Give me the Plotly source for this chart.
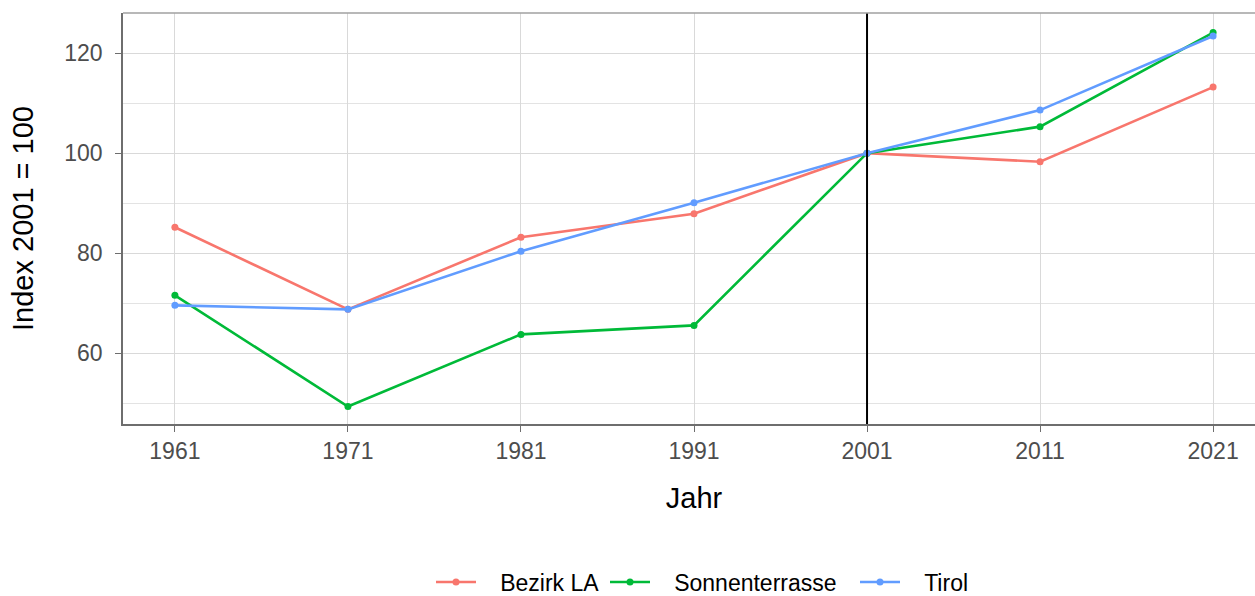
import plotly.graph_objects as go

years = [1961, 1971, 1981, 1991, 2001, 2011, 2021]
bezirk_la = [85.2, 68.8, 83.2, 87.9, 100.0, 98.3, 113.2]
sonnenterrasse = [71.6, 49.4, 63.8, 65.6, 100.0, 105.3, 124.1]
tirol = [69.6, 68.8, 80.4, 90.1, 100.0, 108.6, 123.4]
series_names = ["Bezirk LA", "Sonnenterrasse", "Tirol"]
series_colors = ["#F8766D", "#00BA38", "#619CFF"]
y_ticks = [60, 80, 100, 120]
ref_year = 2001

FONT = "Liberation Sans, Arial, sans-serif"
FIG_W = 1265  # panel extends slightly beyond the 1255px window, as in the reference
FIG_H = 615
legend_px = [431, 605, 855]
legend_ids = ["legend", "legend2", "legend3"]
GAP = "\u00a0\u00a0\u00a0"  # visual gap between legend key and label

fig = go.Figure()
for name, vals, col, lid in zip(series_names, [bezirk_la, sonnenterrasse, tirol], series_colors, legend_ids):
    fig.add_trace(go.Scatter(
        x=years, y=vals, name=GAP + name, mode="lines+markers",
        line=dict(color=col, width=2.6),
        marker=dict(color=col, size=7),
        legend=lid,
    ))

fig.add_vline(x=ref_year, line=dict(color="black", width=2))

# top border of panel
fig.add_shape(type="line", xref="paper", yref="paper", x0=0, x1=1, y0=1, y1=1,
              line=dict(color="#A0A0A0", width=1.6))

legend_common = dict(orientation="h", xanchor="left", xref="container",
                     y=1 - 582 / FIG_H, yanchor="middle", yref="container",
                     font=dict(size=23, color="black", family=FONT), itemwidth=40,
                     bgcolor="rgba(0,0,0,0)")

fig.update_layout(
    width=FIG_W, height=FIG_H,
    margin=dict(l=123, r=0, t=13, b=FIG_H - 424),
    plot_bgcolor="white", paper_bgcolor="white",
    font=dict(family=FONT, color="black"),
    showlegend=True,
    legend=dict(x=legend_px[0] / FIG_W, **legend_common),
    legend2=dict(x=legend_px[1] / FIG_W, **legend_common),
    legend3=dict(x=legend_px[2] / FIG_W, **legend_common),
)

fig.update_xaxes(
    range=[1958, 2024],
    tickmode="array", tickvals=years, ticktext=[str(y) for y in years],
    showgrid=True, gridcolor="#D9D9D9", gridwidth=1,
    showline=True, linecolor="#6E6E6E", linewidth=1.6, mirror=False,
    ticks="outside", ticklen=6, tickcolor="#6E6E6E", tickwidth=1.2,
    tickfont=dict(size=23, color="#4D4D4D", family=FONT),
    title=dict(text="Jahr", font=dict(size=29, color="black", family=FONT), standoff=24),
    zeroline=False, automargin=False,
)
fig.update_yaxes(
    range=[45.9, 128.0],
    tickmode="array", tickvals=y_ticks, ticktext=[str(v) for v in y_ticks],
    showgrid=True, gridcolor="#D9D9D9", gridwidth=1,
    minor=dict(tickmode="array", tickvals=[50, 70, 90, 110], showgrid=True,
               gridcolor="#E3E3E3", gridwidth=1, ticks=""),
    showline=True, linecolor="#6E6E6E", linewidth=1.6,
    ticks="outside", ticklen=6, tickcolor="#6E6E6E", tickwidth=1.2,
    ticklabelstandoff=8,
    tickfont=dict(size=23, color="#4D4D4D", family=FONT),
    title=dict(text="Index 2001 = 100", font=dict(size=29, color="black", family=FONT), standoff=22),
    zeroline=False, automargin=False,
)

fig.write_html("out.html", config={"displayModeBar": False})

# remove default page margins so the figure sits at the window origin
with open("out.html", "r", encoding="utf-8") as f:
    html = f.read()
html = html.replace("<head>", "<head><style>html,body{margin:0;padding:0;overflow:hidden;}</style>", 1)
with open("out.html", "w", encoding="utf-8") as f:
    f.write(html)
